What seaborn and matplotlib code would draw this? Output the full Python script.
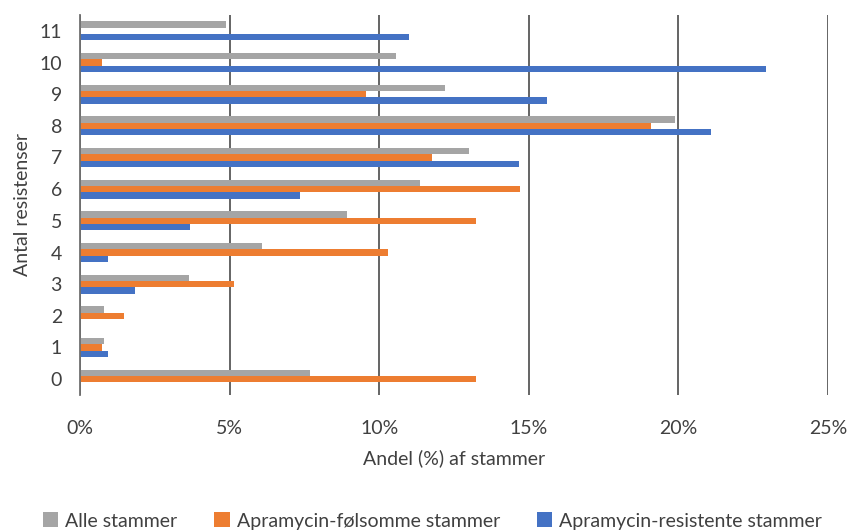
import matplotlib
matplotlib.use("Agg")
import matplotlib.pyplot as plt
from matplotlib.patches import Patch
from matplotlib.ticker import PercentFormatter
import seaborn as sns
import pandas as pd

# Number of resistances per strain
antal = ["0", "1", "2", "3", "4", "5", "6", "7", "8", "9", "10", "11"]

# Share of strains (%) per group
alle = [7.7, 0.81, 0.81, 3.65, 6.09, 8.93, 11.38, 13.0, 19.9, 12.19, 10.55, 4.88]
folsomme = [13.23, 0.73, 1.48, 5.14, 10.29, 13.23, 14.7, 11.76, 19.1, 9.55, 0.73, 0.0]
resistente = [0.0, 0.92, 0.0, 1.83, 0.92, 3.67, 7.34, 14.68, 21.1, 15.6, 22.94, 11.0]

series = ["Alle stammer", "Apramycin-følsomme stammer", "Apramycin-resistente stammer"]
colors = ["#A5A5A5", "#ED7D31", "#4472C4"]

df = pd.concat([
    pd.DataFrame({"antal": antal, "andel": vals, "gruppe": name})
    for name, vals in zip(series, [alle, folsomme, resistente])
])

sns.set_theme(style="white")
plt.rcParams["font.family"] = ["Lato", "DejaVu Sans"]
text_color = "#404040"
fs = 14

fig = plt.figure(figsize=(8.48, 5.32), dpi=100)
ax = fig.add_axes([80 / 848, 1 - 395 / 532, (828 - 80) / 848, (395 - 15) / 532])

sns.barplot(
    data=df, x="andel", y="antal", hue="gruppe", orient="h",
    order=antal[::-1], hue_order=series, palette=colors,
    width=0.6, saturation=1, ax=ax, legend=False, linewidth=0,
)

ax.set_xlim(0, 25)
ax.set_xticks([0, 5, 10, 15, 20, 25])
ax.xaxis.set_major_formatter(PercentFormatter(decimals=0))
ax.grid(axis="x", color="#3a3a3a", linewidth=1.1)
ax.set_axisbelow(True)

for side in ["top", "right", "bottom"]:
    ax.spines[side].set_visible(False)
ax.spines["left"].set_color("#6f6f6f")
ax.spines["left"].set_linewidth(1.3)

ax.tick_params(axis="x", length=0, pad=18, labelsize=fs, labelcolor=text_color)
ax.tick_params(axis="y", length=0, pad=13, labelsize=fs, labelcolor=text_color)

ax.set_xlabel("Andel (%) af stammer", fontsize=fs, color=text_color, labelpad=9)
ax.set_ylabel("Antal resistenser", fontsize=fs, color=text_color, labelpad=6)

handles = [Patch(facecolor=c, edgecolor="none") for c in colors]
fig.legend(
    handles, series, loc="center", bbox_to_anchor=(0.51, 1 - 521 / 532), ncol=3,
    frameon=False, fontsize=fs, handlelength=0.8, handleheight=0.8,
    handletextpad=0.35, columnspacing=1.9, labelcolor=text_color,
    borderpad=0, borderaxespad=0,
)

fig.savefig("out.png", dpi=100)
